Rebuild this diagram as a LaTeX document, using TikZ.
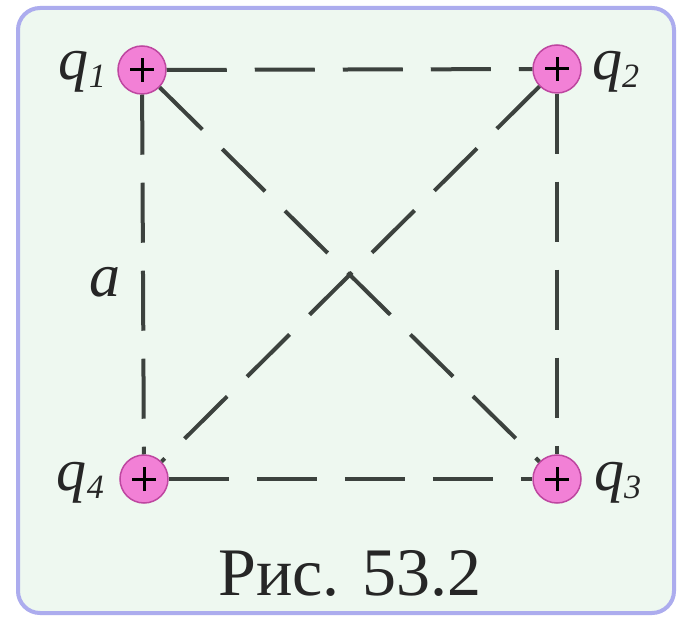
\documentclass[tikz,border=0pt]{standalone}
\usepackage{fontspec}
\setmainfont{Liberation Serif}
\definecolor{chargepink}{RGB}{242,128,214}
\definecolor{chargeedge}{RGB}{190,70,160}
\definecolor{linegray}{RGB}{60,66,62}
\definecolor{framecol}{RGB}{172,172,238}
\definecolor{bgcol}{RGB}{238,248,240}
\begin{document}
\begin{tikzpicture}[x=1pt,y=-1pt,
  charge/.style={circle, fill=chargepink, draw=chargeedge, line width=1.5pt,
    minimum size=48pt, inner sep=0pt,
    path picture={\draw[black, line width=3pt]
      ([xshift=-12pt]path picture bounding box.center) -- ([xshift=12pt]path picture bounding box.center)
      ([yshift=-12pt]path picture bounding box.center) -- ([yshift=12pt]path picture bounding box.center);}},
  link/.style={draw=linegray, line width=4pt, dash pattern=on 60pt off 28pt},
  lbl/.style={font=\fontsize{60}{60}\selectfont\itshape, inner sep=0pt, text=black!85}]
\useasboundingbox (0,0) rectangle (680,617);
\fill[white] (0,0) rectangle (680,617);
\draw[draw=framecol, fill=bgcol, line width=4pt, rounded corners=22pt] (18,8) rectangle (674,613);
\node[charge] (q1) at (142,70) {};
\node[charge] (q2) at (557,69) {};
\node[charge] (q3) at (557,479) {};
\node[charge] (q4) at (144,479) {};
\draw[link] (q1) -- (q2);
\draw[link] (q1) -- (q4);
\draw[link] (q2) -- (q3);
\draw[link] (q4) -- (q3);
\draw[link] (q1) -- (q3);
\draw[link] (q2) -- (q4);
\newcommand{\subn}[1]{\raisebox{-8pt}{\fontsize{34}{34}\selectfont\itshape #1}}
\node[lbl, anchor=base east] (l1) at (106,80) {q\subn{1}};
\node[lbl, anchor=base west] (l2) at (592,80) {q\subn{2}};
\node[lbl, anchor=base west] (l3) at (594,490) {q\subn{3}};
\node[lbl, anchor=base east] (l4) at (104,490) {q\subn{4}};
\node[lbl, font=\fontsize{62}{62}\selectfont\itshape, anchor=base] (la) at (105,297) {a};
\node[inner sep=0pt, anchor=base, font=\fontsize{68}{68}\selectfont, text=black!85] (cap) at (350,595) {Рис. 53.2};
\end{tikzpicture}
\end{document}
